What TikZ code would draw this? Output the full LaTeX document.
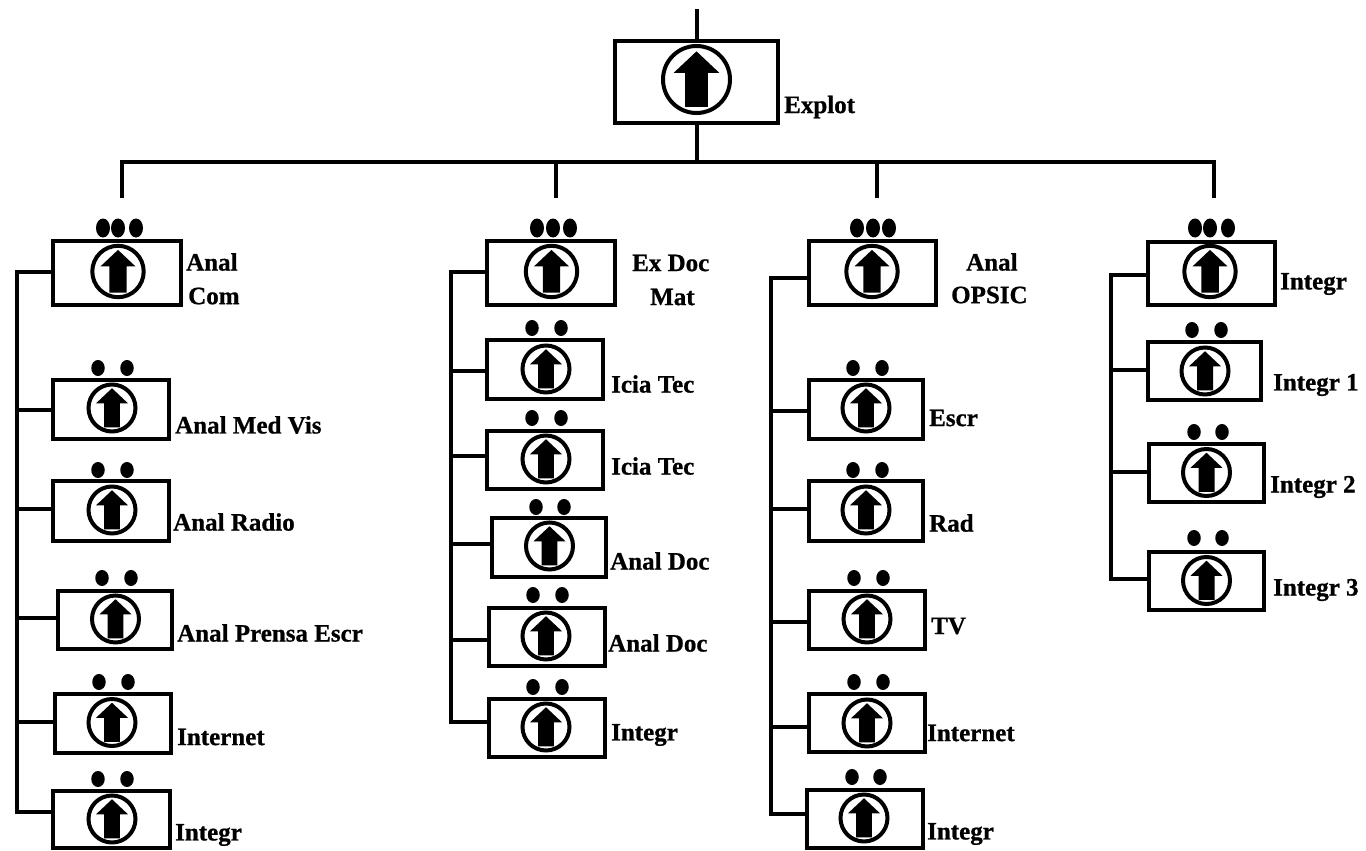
\documentclass[tikz,border=0pt]{standalone}
\usepackage{fontspec}
\setmainfont[BoldFeatures={FakeBold=0.8}]{Liberation Serif}
\usetikzlibrary{shapes.geometric}
\tikzset{
  x=1pt,y=-1pt,
  box/.style={draw=black,line width=4.4pt,inner sep=0pt,fill=white},
  ring/.style={draw=black,line width=4pt,circle,inner sep=0pt,fill=white},
  wire/.style={draw=black,line width=4pt},
  blob/.style={fill=black,draw=none,ellipse,inner sep=0pt},
  lab/.style={font=\fontsize{25}{30}\selectfont\bfseries,anchor=west,inner sep=0pt,text=black},
}
% name, left, top, right, bottom (stroke centres), ring radius, ring x, ring y
\newcommand{\bx}[8]{%
  \pgfmathsetmacro{\bw}{#4-#2}\pgfmathsetmacro{\bh}{#5-#3}%
  \pgfmathsetmacro{\bcx}{(#2+#4)/2}\pgfmathsetmacro{\bcy}{(#3+#5)/2}%
  \pgfmathsetmacro{\dia}{2*#6}%
  \node[box,minimum width=\bw pt,minimum height=\bh pt] (#1) at (\bcx,\bcy) {};%
  \node[ring,minimum size=\dia pt] (#1c) at (#7,#8) {};%
  \begin{scope}[shift={(#7,#8)},x=#6pt,y=-#6pt]
    \fill[black] (0,-.84) -- (.68,-.2) -- (.34,-.2) -- (.34,.82) -- (-.34,.82) -- (-.34,-.2) -- (-.68,-.2) -- cycle;
  \end{scope}}
\newcommand{\twodots}[3]{%
  \node[blob,minimum width=13.5pt,minimum height=16pt] at (#1,#3) {};
  \node[blob,minimum width=13.5pt,minimum height=16pt] at (#2,#3) {};}
\newcommand{\threedots}[4]{%
  \node[blob,minimum width=14pt,minimum height=19pt] at (#1,#4) {};
  \node[blob,minimum width=14pt,minimum height=19pt] at (#2,#4) {};
  \node[blob,minimum width=14pt,minimum height=19pt] at (#3,#4) {};}
\begin{document}
\begin{tikzpicture}
\useasboundingbox (0,0) rectangle (1366,851);
\fill[white] (0,0) rectangle (1366,851);
% named connector points
\coordinate (top) at (696.5,9);
\coordinate (hub) at (696.5,162);
\coordinate (h1) at (122,162);\coordinate (h2) at (556,162);\coordinate (h3) at (877,162);\coordinate (h4) at (1214,162);
\coordinate (d1) at (122,198);\coordinate (d2) at (556,198);\coordinate (d3) at (877,198);\coordinate (d4) at (1214,198);
\coordinate (s1) at (17,272);\coordinate (e1) at (17,812);
\coordinate (s2) at (450.5,272);\coordinate (e2) at (450.5,722);
\coordinate (s3) at (771,278);\coordinate (e3) at (771,814);
\coordinate (s4) at (1110.5,275);\coordinate (e4) at (1110.5,579);

\bx{ex}{615}{41}{778}{123}{33.5}{696.5}{79.5}
\draw[wire] (top) -- (ex.north);
\draw[wire] (ex.south) -- (hub);
\draw[wire,line cap=rect] (h1) -- (h4);
\draw[wire] (h1) -- (d1);\draw[wire] (h2) -- (d2);\draw[wire] (h3) -- (d3);\draw[wire] (h4) -- (d4);

\bx{a0}{53}{241}{181}{305}{25.7}{118}{271.5}
\bx{a1}{53}{380}{169}{439}{23.5}{112}{408}
\bx{a2}{53}{481}{169}{541}{23.5}{112}{510}
\bx{a3}{58}{591}{172}{649}{23.5}{115.5}{619}
\bx{a4}{55}{694}{171}{753}{23.5}{112}{722.5}
\bx{a5}{53}{791}{170}{848}{23.5}{112}{819}
\threedots{103}{118}{136}{228}
\twodots{98}{127}{368}\twodots{98}{127}{470}\twodots{102}{131}{578}\twodots{99}{128}{682}\twodots{98}{127}{779}

\bx{b0}{487}{241}{615}{305}{25.7}{551.5}{271.5}
\bx{b1}{487}{340}{603}{399}{23.5}{546}{369}
\bx{b2}{487}{431}{603}{489}{23.5}{546}{459}
\bx{b3}{492}{518}{606}{577}{23.5}{549.5}{546}
\bx{b4}{489}{608}{605}{666}{23.5}{546}{636}
\bx{b5}{489}{699}{605}{757}{23.5}{546}{727}
\threedots{537}{553}{570}{228}
\twodots{532}{561}{328}\twodots{532}{561}{418}\twodots{536}{564}{507}\twodots{533}{562}{595}\twodots{533}{562}{687}

\bx{c0}{809}{241}{936}{305}{25.7}{872}{271.5}
\bx{c1}{809}{380}{923}{439}{23.5}{866}{408}
\bx{c2}{809}{481}{923}{541}{23.5}{866}{510}
\bx{c3}{809}{591}{925}{649}{23.5}{867}{619}
\bx{c4}{809}{694}{925}{752}{23.5}{867}{723}
\bx{c5}{807}{790}{923}{848}{23.5}{864}{818}
\threedots{857}{873}{889}{228}
\twodots{853}{882}{368}\twodots{853}{882}{470}\twodots{854}{883}{578}\twodots{854}{883}{682}\twodots{852}{880}{777}

\bx{d0}{1148}{242}{1275}{305}{25.7}{1210}{271.5}
\bx{d1b}{1148}{342}{1261}{400}{23.5}{1205}{371}
\bx{d2b}{1149}{444}{1264}{502}{23.5}{1206.5}{472.5}
\bx{d3b}{1149}{552}{1264}{610}{23.5}{1206.5}{580.5}
\threedots{1195}{1210}{1228}{228}
\twodots{1192}{1221}{330}\twodots{1194}{1222}{432}\twodots{1194}{1222}{538}

% spines and branches
\draw[wire,line cap=rect] (s1) -- (e1);
\draw[wire,line cap=rect] (s2) -- (e2);
\draw[wire,line cap=rect] (s3) -- (e3);
\draw[wire,line cap=rect] (s4) -- (e4);
\draw[wire] (s1) -- (s1 -| a0.west);
\draw[wire] (17,410) -- (a1.west |- 0,410);
\draw[wire] (17,509) -- (a2.west |- 0,509);
\draw[wire] (17,618) -- (a3.west |- 0,618);
\draw[wire] (17,722) -- (a4.west |- 0,722);
\draw[wire] (e1) -- (e1 -| a5.west);
\draw[wire] (s2) -- (s2 -| b0.west);
\draw[wire] (450.5,371) -- (b1.west |- 0,371);
\draw[wire] (450.5,456) -- (b2.west |- 0,456);
\draw[wire] (450.5,544) -- (b3.west |- 0,544);
\draw[wire] (450.5,640) -- (b4.west |- 0,640);
\draw[wire] (e2) -- (e2 -| b5.west);
\draw[wire] (s3) -- (s3 -| c0.west);
\draw[wire] (771,411) -- (c1.west |- 0,411);
\draw[wire] (771,509) -- (c2.west |- 0,509);
\draw[wire] (771,622) -- (c3.west |- 0,622);
\draw[wire] (771,727) -- (c4.west |- 0,727);
\draw[wire] (e3) -- (e3 -| c5.west);
\draw[wire] (s4) -- (s4 -| d0.west);
\draw[wire] (1110.5,370) -- (d1b.west |- 0,370);
\draw[wire] (1110.5,472) -- (d2b.west |- 0,472);
\draw[wire] (e4) -- (e4 -| d3b.west);

% labels
\node[lab] (lex) at (784,107) {Explot};
\node[lab] (l1) at (186,262) {Anal};
\node[lab] (l1b) at (188,296) {Com};
\node[lab] (la1) at (175,425) {Anal Med Vis};
\node[lab] (la2) at (173,522) {Anal Radio};
\node[lab] (la3) at (177,633) {Anal Prensa Escr};
\node[lab] (la4) at (177,737) {Internet};
\node[lab] (la5) at (175,835) {Integr};
\node[lab] (l2) at (632,263) {Ex Doc};
\node[lab] (l2b) at (650,297) {Mat};
\node[lab] (lb1) at (611,384) {Icia Tec};
\node[lab] (lb2) at (611,466) {Icia Tec};
\node[lab] (lb3) at (610,561) {Anal Doc};
\node[lab] (lb4) at (608,643) {Anal Doc};
\node[lab] (lb5) at (611,735) {Integr};
\node[lab] (l3) at (966,262) {Anal};
\node[lab] (l3b) at (951,295) {OPSIC};
\node[lab] (lc1) at (929,418) {Escr};
\node[lab] (lc2) at (929,523) {Rad};
\node[lab] (lc3) at (931,626) {TV};
\node[lab] (lc4) at (927,733) {Internet};
\node[lab] (lc5) at (927,834) {Integr};
\node[lab] (l4) at (1280,284) {Integr};
\node[lab] (ld1) at (1273,385) {Integr 1};
\node[lab] (ld2) at (1270,487) {Integr 2};
\node[lab] (ld3) at (1273,590) {Integr 3};
\end{tikzpicture}
\end{document}
